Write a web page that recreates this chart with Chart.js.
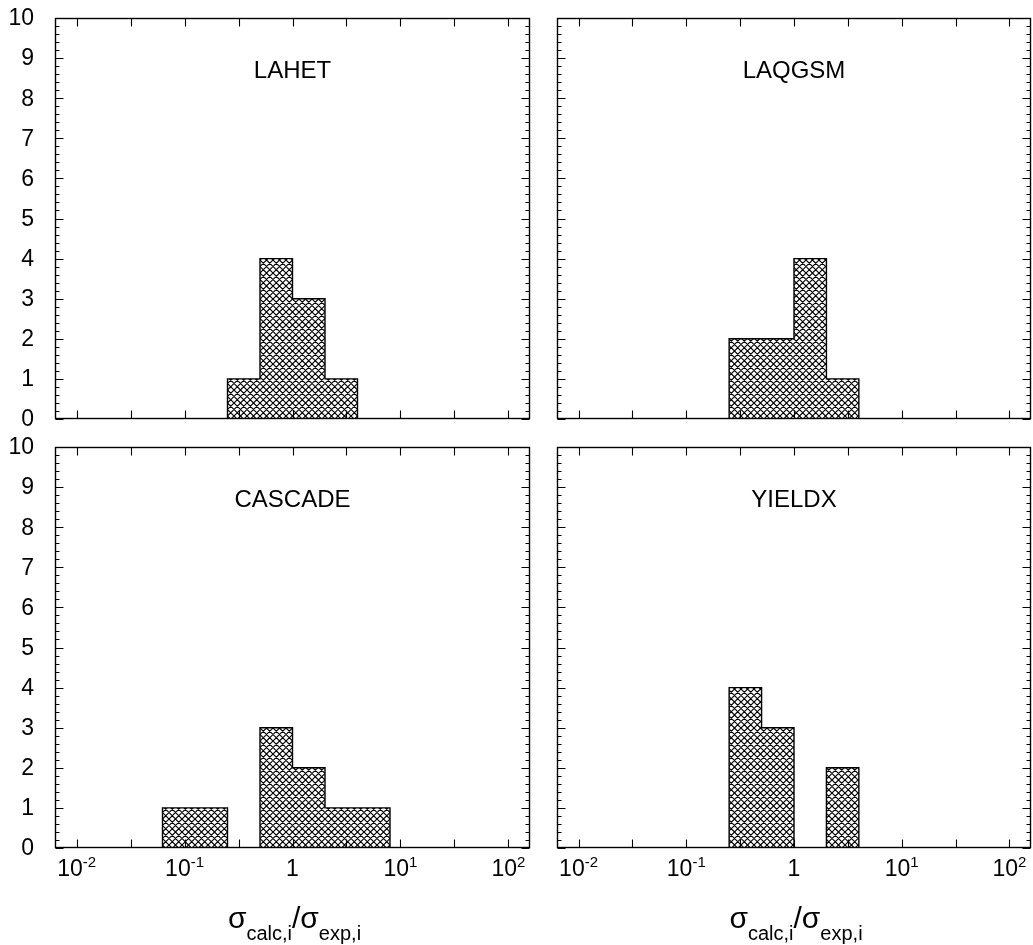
<!DOCTYPE html>
<html><head><meta charset="utf-8">
<script src="https://cdn.jsdelivr.net/npm/chart.js@4.4.1/dist/chart.umd.min.js"></script>
<style>
html,body{margin:0;padding:0;background:#fff;}
#wrap{position:relative;width:1033px;height:945px;overflow:hidden;background:#fff;}
#wrap canvas{position:absolute;left:0;top:0;}
</style></head><body><div id="wrap">
<canvas id="c0" width="1033" height="945"></canvas>
<canvas id="c1" width="1033" height="945"></canvas>
<canvas id="c2" width="1033" height="945"></canvas>
<canvas id="c3" width="1033" height="945"></canvas>
</div>
<script>
// ---------------- data ----------------
const panelNames = ['LAHET', 'LAQGSM', 'CASCADE', 'YIELDX'];
const binEdges = [0.0625, 0.125, 0.25, 0.5, 1, 2, 4, 8];
const countsLAHET   = [0, 0, 1, 4, 3, 1, 0];
const countsLAQGSM  = [0, 0, 2, 2, 4, 1, 0];
const countsCASCADE = [1, 1, 0, 3, 2, 1, 1];
const countsYIELDX  = [0, 0, 4, 3, 0, 2, 0];
const yTickValues = [0, 1, 2, 3, 4, 5, 6, 7, 8, 9, 10];
const xTickValues = [0.01, 0.1, 1, 10, 100];
const xTickBase = ['10', '10', '1', '10', '10'];
const xTickExp  = ['-2', '-1', '', '1', '2'];
const xTitleParts = [['σ', 'calc,i'], ['σ', 'exp,i']];

const FONT = '"Liberation Sans", Arial, Helvetica, sans-serif';

// hatch pattern (cross-hatch)
function makePattern() {
  const T = 13;
  const t = document.createElement('canvas');
  t.width = T; t.height = T;
  const g = t.getContext('2d');
  g.strokeStyle = '#000';
  g.lineWidth = 1.15;
  g.beginPath();
  for (let o = -2 * T; o <= 2 * T; o += T / 2) {
    g.moveTo(o, 0); g.lineTo(o + T, T);
    g.moveTo(o, T); g.lineTo(o + T, 0);
  }
  g.stroke();
  return g.createPattern(t, 'repeat');
}

function outline(counts) {
  let a = counts.findIndex(c => c > 0);
  let b = counts.length - 1 - [...counts].reverse().findIndex(c => c > 0);
  const pts = [{x: binEdges[a], y: 0}];
  for (let i = a; i <= b; i++) {
    pts.push({x: binEdges[i], y: counts[i]});
    pts.push({x: binEdges[i + 1], y: counts[i]});
  }
  pts.push({x: binEdges[b + 1], y: 0});
  return pts;
}

const framePlugin = {
  id: 'frame',
  afterDatasetsDraw(chart, args, opts) {
    const ctx = chart.ctx;
    const ca = chart.chartArea;
    const xs = chart.scales.x, ys = chart.scales.y;
    const L = Math.round(ca.left) + 0.5, R = Math.round(ca.right) - 0.5;
    const T = Math.round(ca.top) + 0.5, B = Math.round(ca.bottom) - 0.5;
    ctx.save();
    ctx.strokeStyle = '#000';
    ctx.lineWidth = 1.4;
    ctx.strokeRect(L, T, R - L, B - T);
    ctx.lineWidth = 1.1;
    ctx.beginPath();
    // x ticks at half-decades
    for (let k = -4; k <= 4; k++) {
      const px = Math.round(xs.getPixelForValue(Math.pow(10, k / 2))) + 0.5;
      ctx.moveTo(px, B); ctx.lineTo(px, B - 8);
      ctx.moveTo(px, T); ctx.lineTo(px, T + 8);
    }
    // y ticks
    for (let i = 0; i <= 50; i++) {
      const v = i / 5;
      const py = Math.round(ys.getPixelForValue(v)) + 0.5;
      const len = (i % 5 === 0) ? 8 : 4;
      ctx.moveTo(L, py); ctx.lineTo(L + len, py);
      ctx.moveTo(R, py); ctx.lineTo(R - len, py);
    }
    ctx.stroke();

    ctx.fillStyle = '#000';
    // y tick labels
    if (opts.yLabels) {
      ctx.font = '23px ' + FONT;
      ctx.textAlign = 'right';
      ctx.textBaseline = 'middle';
      for (const v of yTickValues) {
        ctx.fillText(String(v), ca.left - 21, ys.getPixelForValue(v) + 1);
      }
    }

    // panel name
    ctx.font = '24px ' + FONT;
    ctx.textAlign = 'center';
    ctx.textBaseline = 'alphabetic';
    ctx.fillText(opts.name, (ca.left + ca.right) / 2, ca.top + 60);

    if (opts.xLabels) {
      ctx.textAlign = 'left';
      for (let i = 0; i < xTickValues.length; i++) {
        const px = xs.getPixelForValue(xTickValues[i]);
        ctx.font = '23px ' + FONT;
        const wb = ctx.measureText(xTickBase[i]).width;
        ctx.font = '15px ' + FONT;
        const we = xTickExp[i] ? ctx.measureText(xTickExp[i]).width : 0;
        const x0 = px - (wb + we) / 2;
        ctx.font = '23px ' + FONT;
        ctx.fillText(xTickBase[i], x0, ca.bottom + 28);
        if (xTickExp[i]) {
          ctx.font = '15px ' + FONT;
          ctx.fillText(xTickExp[i], x0 + wb, ca.bottom + 19);
        }
      }
      // axis title
      const big = '30px ' + FONT, small = '20px ' + FONT;
      const segs = [
        [xTitleParts[0][0], big, 0], [xTitleParts[0][1], small, 12],
        ['/', big, 0],
        [xTitleParts[1][0], big, 0], [xTitleParts[1][1], small, 12]
      ];
      let tot = 0;
      for (const s of segs) { ctx.font = s[1]; tot += ctx.measureText(s[0]).width; }
      let x = (ca.left + ca.right) / 2 + 2 - tot / 2;
      const base = ca.bottom + 80;
      for (const s of segs) {
        ctx.font = s[1];
        ctx.fillText(s[0], x, base + s[2]);
        x += ctx.measureText(s[0]).width;
      }
    }
    ctx.restore();
  }
};

const pattern = makePattern();
const W = 1033, H = 945;
const panels = [
  {counts: countsLAHET,   left: 55,  right: 530,  top: 18,  bottom: 419, yLabels: true,  xLabels: false},
  {counts: countsLAQGSM,  left: 557, right: 1031, top: 18,  bottom: 419, yLabels: false, xLabels: false},
  {counts: countsCASCADE, left: 55,  right: 530,  top: 447, bottom: 848, yLabels: true,  xLabels: true},
  {counts: countsYIELDX,  left: 557, right: 1031, top: 447, bottom: 848, yLabels: false, xLabels: true}
];

panels.forEach((p, idx) => {
  new Chart(document.getElementById('c' + idx), {
    type: 'line',
    data: {
      datasets: [{
        data: outline(p.counts),
        borderColor: '#000',
        borderWidth: 1.4,
        backgroundColor: pattern,
        fill: 'origin',
        pointRadius: 0,
        tension: 0
      }]
    },
    options: {
      responsive: false,
      animation: false,
      events: [],
      layout: {padding: {left: p.left, right: W - p.right, top: p.top, bottom: H - p.bottom}},
      plugins: {
        legend: {display: false},
        tooltip: {enabled: false},
        frame: {name: panelNames[idx], xLabels: p.xLabels, yLabels: p.yLabels}
      },
      scales: {
        x: {
          type: 'logarithmic',
          min: Math.pow(10, -2.2),
          max: Math.pow(10, 2.2),
          grid: {display: false},
          border: {display: false},
          ticks: {display: false},
          afterFit(s) { s.height = 0; }
        },
        y: {
          type: 'linear',
          min: 0, max: 10,
          grid: {display: false, drawTicks: false},
          border: {display: false},
          ticks: {display: false, stepSize: 1},
          afterFit(s) { s.width = 0; }
        }
      }
    },
    plugins: [framePlugin]
  });
});
</script>
</body></html>
